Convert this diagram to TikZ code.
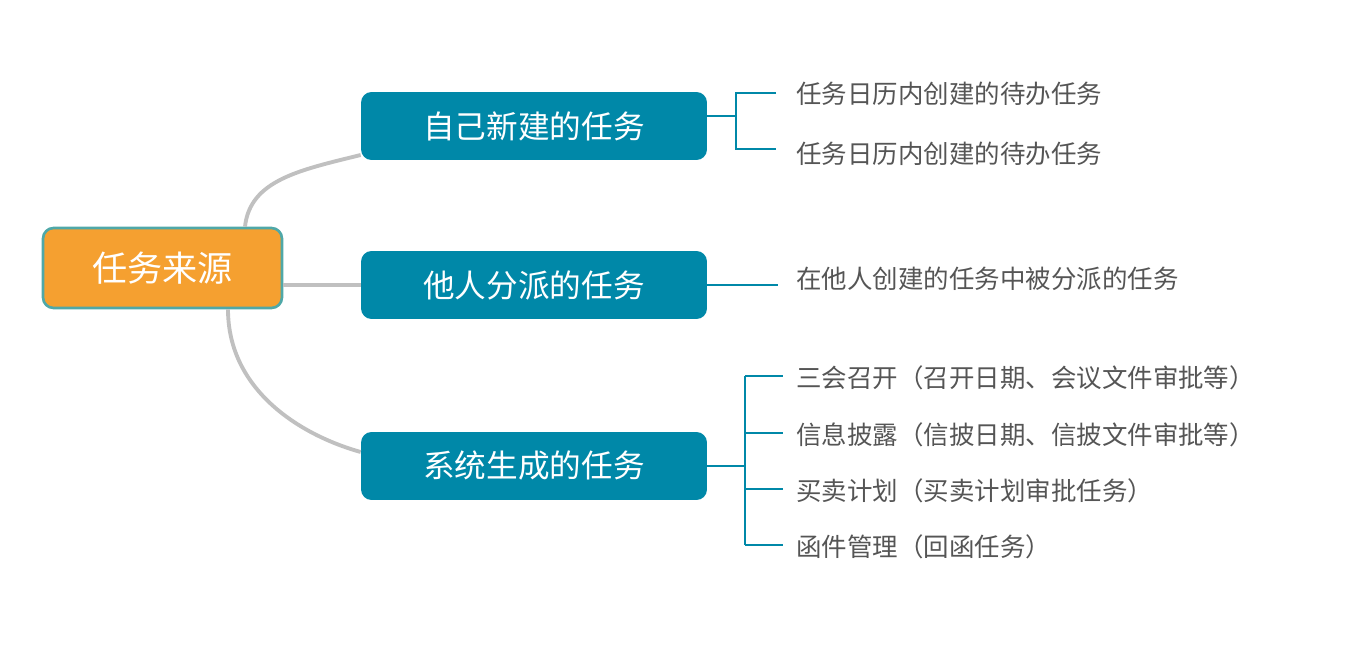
\documentclass[tikz,border=0pt]{standalone}
\usepackage{fontspec}
\setmainfont{Noto Sans CJK SC}
\usetikzlibrary{positioning}
\definecolor{rootfill}{HTML}{F5A030}
\definecolor{rootline}{HTML}{4FA8A8}
\definecolor{boxfill}{HTML}{0088A8}
\definecolor{leafgray}{HTML}{555555}
\definecolor{linkgray}{HTML}{C0C0C0}
\tikzset{
  rootbox/.style={draw=rootline, line width=1.5pt, fill=rootfill, rounded corners=6pt,
    minimum width=4.78cm, minimum height=1.6cm, text=white, font=\fontsize{20}{24}\selectfont},
  topicbox/.style={fill=boxfill, rounded corners=6pt, minimum width=6.92cm,
    minimum height=1.36cm, text=white, font=\fontsize{18}{22}\selectfont},
  leaf/.style={anchor=west, inner sep=0pt, text=leafgray, font=\fontsize{14.5}{18}\selectfont},
  link/.style={draw=linkgray, line width=2.2pt},
  bracket/.style={draw=boxfill, line width=1.2pt},
}
\begin{document}
\begin{tikzpicture}[x=0.02cm, y=-0.02cm]
  \useasboundingbox (0,0) rectangle (1369,659);

  % Root and topics
  \node[rootbox] (root) at (162.5,268) {任务来源};
  \node[topicbox] (own) at (534,126) {自己新建的任务};
  \node[topicbox] (other) at (534,285) {他人分派的任务};
  \node[topicbox] (sys) at (534,466) {系统生成的任务};

  % Links from root
  \draw[link] (root.north -| 245,0) .. controls (250,180) and (300,170) .. (own.south west |- 0,155);
  \draw[link] (root.east |- other) -- (other.west);
  \draw[link] (root.south -| 228,0) .. controls (228,390) and (300,435) .. (sys.west |- 0,452);

  % Leaves of own tasks
  \node[leaf] (own1) at (796,94) {任务日历内创建的待办任务};
  \node[leaf] (own2) at (796,154) {任务日历内创建的待办任务};
  \coordinate (ownfork) at (736,116);
  \draw[bracket] (own.east |- ownfork) -- (ownfork);
  \draw[bracket] (776,93) -| (736,149) -- (776,149);

  % Leaf of assigned tasks
  \node[leaf] (other1) at (796,279) {在他人创建的任务中被分派的任务};
  \coordinate (otherend) at (778,285);
  \draw[bracket] (other.east) -- (otherend);

  % Leaves of system tasks
  \foreach \i/\y/\txt in {1/378/三会召开（召开日期、会议文件审批等）,
                          2/435/信息披露（信披日期、信披文件审批等）,
                          3/491/买卖计划（买卖计划审批任务）,
                          4/547/函件管理（回函任务）} {
    \node[leaf] (sys\i) at (796,\y) {\txt};
    \draw[bracket] (745,\y-2) -- (783,\y-2);
  }
  \coordinate (sysfork) at (745,466);
  \draw[bracket] (sys.east) -- (sysfork);
  \draw[bracket] (745,376) -- (745,545);
\end{tikzpicture}
\end{document}
